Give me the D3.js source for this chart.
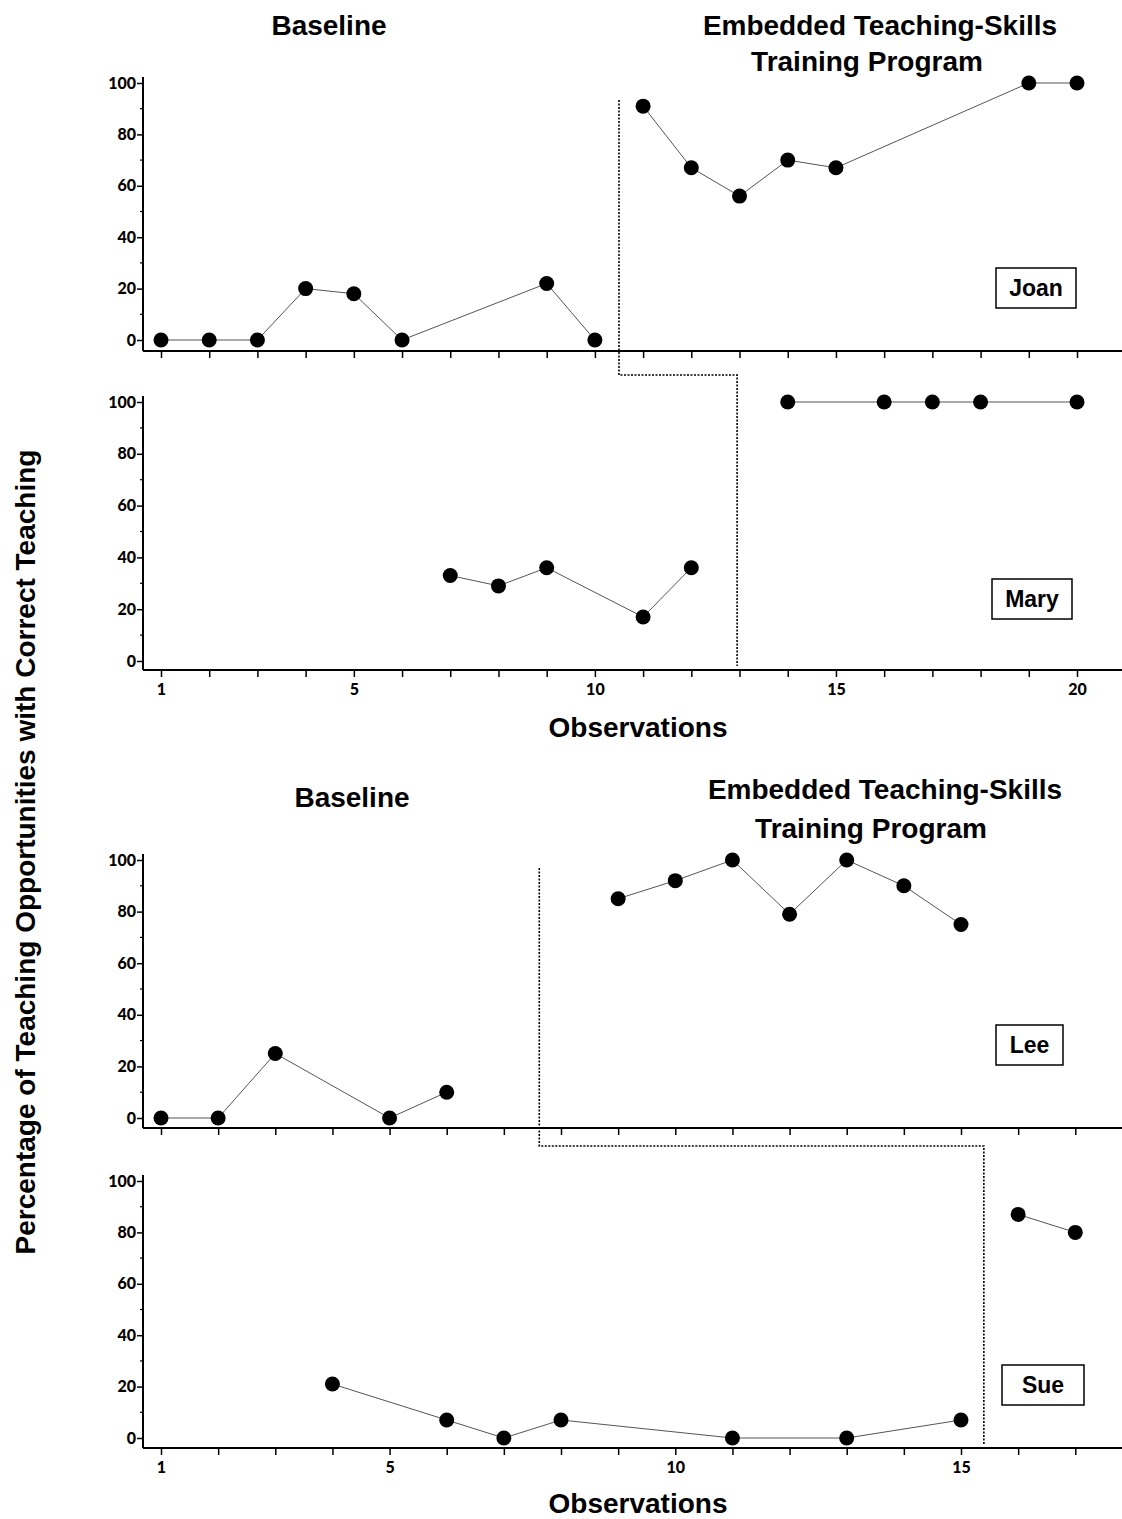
<!DOCTYPE html>
<html>
<head>
<meta charset="utf-8">
<script src="https://cdn.jsdelivr.net/npm/d3@7"></script>
<style>
  body { margin: 0; background: #fff; }
  svg { display: block; }
</style>
</head>
<body>
<svg id="chart" width="1122" height="1519"></svg>
<script>
const joanObs   = [1, 2, 3, 4, 5, 6, 9, 10, 11, 12, 13, 14, 15, 19, 20];
const joanPct   = [0, 0, 0, 20, 18, 0, 22, 0, 91, 67, 56, 70, 67, 100, 100];
const joanSplit = 8;   // first 8 points are baseline

const maryObs   = [7, 8, 9, 11, 12, 14, 16, 17, 18, 20];
const maryPct   = [33, 29, 36, 17, 36, 100, 100, 100, 100, 100];
const marySplit = 5;

const leeObs    = [1, 2, 3, 5, 6, 9, 10, 11, 12, 13, 14, 15];
const leePct    = [0, 0, 25, 0, 10, 85, 92, 100, 79, 100, 90, 75];
const leeSplit  = 5;

const sueObs    = [4, 6, 7, 8, 11, 13, 15, 16, 17];
const suePct    = [21, 7, 0, 7, 0, 0, 7, 87, 80];
const sueSplit  = 7;

// phase change positions (in observation units)
const phaseTop    = [10.5, 12.95];
const phaseBottom = [7.62, 15.4];

const yTicks = [0, 20, 40, 60, 80, 100];
const xLabelsTop = [1, 5, 10, 15, 20];
const xLabelsBottom = [1, 5, 10, 15];

const svg = d3.select("#chart");

const xTop = d3.scaleLinear().domain([1, 20]).range([161, 1077]);
const xBot = d3.scaleLinear().domain([1, 15]).range([161, 961]);

const panels = [
  { name: "Joan", obs: joanObs, pct: joanPct, split: joanSplit, x: xTop, maxTick: 20, y0: 340, y100: 83, axisY: 351, box: [996, 268, 80, 40], labels: null },
  { name: "Mary", obs: maryObs, pct: maryPct, split: marySplit, x: xTop, maxTick: 20, y0: 661, y100: 402, axisY: 670, box: [992, 579, 80, 40], labels: xLabelsTop },
  { name: "Lee",  obs: leeObs,  pct: leePct,  split: leeSplit,  x: xBot, maxTick: 17, y0: 1118, y100: 860, axisY: 1128, box: [996, 1025, 67, 40], labels: null },
  { name: "Sue",  obs: sueObs,  pct: suePct,  split: sueSplit,  x: xBot, maxTick: 17, y0: 1438, y100: 1181, axisY: 1448, box: [1002, 1365, 82, 40], labels: xLabelsBottom }
];

const axisX0 = 143, axisX1 = 1122;
const tickFont = "Lato, 'DejaVu Sans', sans-serif";

panels.forEach(p => {
  const y = d3.scaleLinear().domain([0, 100]).range([p.y0, p.y100]);
  const g = svg.append("g");

  // y axis: major ticks with labels, minor ticks every 10
  const yAxis = d3.axisLeft(y).tickValues(yTicks).tickSize(6).tickPadding(1).tickSizeOuter(0);
  const ya = g.append("g").attr("transform", `translate(${axisX0},0)`).call(yAxis);
  ya.select(".domain").remove();
  ya.selectAll("line").attr("stroke", "#000").attr("stroke-width", 1.5);
  ya.selectAll("text").attr("font-family", tickFont)
    .attr("font-weight", 900).attr("font-size", 16).attr("fill", "#000");
  g.selectAll(".minor").data(d3.range(10, 100, 20)).enter().append("line")
    .attr("x1", axisX0 - 3).attr("x2", axisX0)
    .attr("y1", d => y(d)).attr("y2", d => y(d))
    .attr("stroke", "#000").attr("stroke-width", 1.2);
  g.append("line").attr("x1", axisX0).attr("x2", axisX0)
    .attr("y1", p.y100 - 6).attr("y2", p.axisY)
    .attr("stroke", "#000").attr("stroke-width", 2);

  // x axis: a tick on every observation
  const xAxis = d3.axisBottom(p.x).tickValues(d3.range(1, p.maxTick + 1)).tickSize(7).tickSizeOuter(0)
    .tickFormat(d => p.labels && p.labels.includes(d) ? d : "");
  const xa = g.append("g").attr("transform", `translate(0,${p.axisY})`).call(xAxis);
  xa.select(".domain").remove();
  xa.selectAll("line").attr("stroke", "#000").attr("stroke-width", 1.5);
  xa.selectAll("text").attr("font-family", tickFont)
    .attr("font-weight", 900).attr("font-size", 16).attr("fill", "#000").attr("dy", "0.95em");
  g.append("line").attr("x1", axisX0).attr("x2", axisX1)
    .attr("y1", p.axisY).attr("y2", p.axisY)
    .attr("stroke", "#000").attr("stroke-width", 2);

  // data: baseline and treatment drawn as separate lines
  const pts = p.obs.map((o, i) => [o, p.pct[i]]);
  const line = d3.line().x(d => p.x(d[0])).y(d => y(d[1]));
  [pts.slice(0, p.split), pts.slice(p.split)].forEach(seg => {
    g.append("path").attr("d", line(seg)).attr("fill", "none")
      .attr("stroke", "#555").attr("stroke-width", 1);
  });
  g.selectAll(".dot").data(pts).enter().append("circle")
    .attr("cx", d => p.x(d[0])).attr("cy", d => y(d[1])).attr("r", 7.5)
    .attr("fill", "#000");

  // name box
  g.append("rect").attr("x", p.box[0]).attr("y", p.box[1]).attr("width", p.box[2]).attr("height", p.box[3])
    .attr("fill", "#fff").attr("stroke", "#000").attr("stroke-width", 1.5);
  g.append("text").attr("x", p.box[0] + p.box[2] / 2).attr("y", p.box[1] + p.box[3] / 2 + 8)
    .attr("text-anchor", "middle").attr("font-family", "'Liberation Sans', Arial, sans-serif")
    .attr("font-weight", "bold").attr("font-size", 23).text(p.name);
});

// phase change lines (dotted staircase)
function phaseLine(a, b, split, top, mid) {
  const xa = a.x(split[0]), xb = b.x(split[1]);
  const path = d3.path();
  path.moveTo(xa, top);
  path.lineTo(xa, mid);
  path.lineTo(xb, mid);
  path.lineTo(xb, b.axisY - 4);
  svg.append("path").attr("d", path.toString()).attr("fill", "none")
    .attr("stroke", "#000").attr("stroke-width", 1.6).attr("stroke-dasharray", "2,1.5");
}
phaseLine(panels[0], panels[1], phaseTop, 100, 375);
phaseLine(panels[2], panels[3], phaseBottom, 868, 1146);

// titles
const titleFont = "'Liberation Sans', Arial, sans-serif";
function title(x, y, txt) {
  svg.append("text").attr("x", x).attr("y", y).attr("text-anchor", "middle")
    .attr("font-family", titleFont).attr("font-weight", "bold").attr("font-size", 28).text(txt);
}
title(329, 35, "Baseline");
title(880, 35, "Embedded Teaching-Skills");
title(867, 71, "Training Program");
title(352, 807, "Baseline");
title(885, 799, "Embedded Teaching-Skills");
title(871, 838, "Training Program");
title(638, 737, "Observations");
title(638, 1513, "Observations");

svg.append("text")
  .attr("transform", "translate(35,852) rotate(-90)")
  .attr("text-anchor", "middle").attr("font-family", titleFont)
  .attr("font-weight", "bold").attr("font-size", 28)
  .text("Percentage of Teaching Opportunities with Correct Teaching");
</script>
</body>
</html>
